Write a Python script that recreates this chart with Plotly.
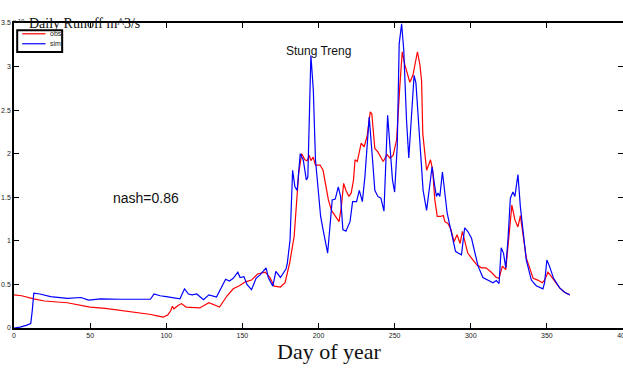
import plotly.graph_objects as go

# ---- data (units: x 10^4 m^3/s) ----
obs_day = [0, 5, 13, 20, 35, 50, 60, 72, 83, 90, 94, 98, 101, 103, 104, 105, 108, 110, 113, 116,
           122, 128, 131, 135, 140, 144, 148, 152, 156, 160, 165, 168, 171, 175, 178, 181, 184, 187,
           189, 191, 192.5, 194, 195, 196.5, 198, 201, 203, 204.5, 206.5, 208.5, 211, 213.5, 215,
           216.5, 218, 220, 221.5, 223, 224, 225.5, 228, 230, 232, 234, 235, 237, 239, 242.5, 245,
           247, 249, 251.3, 253.4, 255, 256.7, 260, 262, 265, 266.6, 267.7, 268.5, 271, 273.6, 275,
           276.4, 278, 280, 282, 283, 285, 287, 289, 291, 293, 294.5, 296, 298, 301.5, 304, 307,
           310, 313.5, 316.8, 318.6, 320.8, 323, 324.5, 325.6, 327, 329, 331, 332.6, 334.3, 336.5,
           338.3, 341, 344, 347, 348.5, 350.7, 353, 356, 358.4, 361.6, 365]
obs_val = [0.38, 0.37, 0.335, 0.31, 0.29, 0.24, 0.225, 0.20, 0.17, 0.155, 0.14, 0.125, 0.15, 0.20,
           0.25, 0.22, 0.26, 0.28, 0.24, 0.235, 0.23, 0.29, 0.27, 0.24, 0.37, 0.45, 0.485, 0.53,
           0.55, 0.62, 0.64, 0.58, 0.48, 0.47, 0.52, 0.74, 1.05, 1.78, 2.0, 1.93, 1.92, 1.98, 1.92,
           1.96, 1.87, 1.87, 1.81, 1.66, 1.47, 1.35, 1.28, 1.22, 1.39, 1.66, 1.58, 1.51, 1.55, 1.70,
           1.93, 1.91, 2.12, 2.08, 2.21, 2.48, 2.46, 2.06, 2.02, 1.91, 1.99, 1.95, 1.98, 2.16, 2.77,
           3.17, 3.02, 2.82, 2.90, 3.17, 3.02, 2.84, 2.23, 1.81, 1.93, 1.81, 1.47, 1.28, 1.28, 1.29,
           1.22, 1.20, 1.13, 0.99, 1.07, 0.97, 1.11, 1.0, 0.86, 0.78, 0.725, 0.69, 0.69, 0.64, 0.58,
           0.57, 0.71, 0.67, 0.95, 1.22, 1.41, 1.24, 1.16, 1.29, 1.05, 0.80, 0.71, 0.57, 0.55, 0.52,
           0.55, 0.64, 0.59, 0.515, 0.46, 0.41, 0.38]

sim_day = [0, 4, 8, 11, 12, 13, 17, 24, 35, 44, 49, 57, 70, 80, 89.6, 92, 96, 100, 104, 109, 112,
           114.6, 117, 120, 124.5, 128, 133, 136, 139, 141.5, 144, 147, 148.5, 151, 153, 156, 159,
           161.6, 165.6, 167, 170, 172, 175, 178.7, 179.5, 181.3, 183, 184.5, 186, 188, 190, 192,
           193, 195, 196.6, 198, 200, 201.4, 203, 204.7, 206, 207.5, 209, 211, 213, 214.5, 216, 218,
           220.7, 222.4, 225, 226.8, 228.8, 230.5, 233.3, 235.5, 237, 239, 241, 243, 245.4, 247.3,
           248.6, 250, 251.7, 253, 254.6, 256, 257.8, 259.3, 261, 262.8, 264, 266.6, 268.7, 271,
           272.7, 274.6, 276.4, 277.5, 278.5, 279.7, 281.4, 283, 284.5, 286.2, 288.4, 290, 291.7,
           293.9, 296, 298, 300.5, 302.7, 304.8, 308, 311.3, 314.6, 316.8, 318.6, 320, 321.5, 323,
           324.5, 326, 327.7, 329, 331, 332.6, 334.3, 336.5, 339.8, 343, 347.4, 348.5, 350, 351.7,
           354.4, 358.4, 361.6, 365]
sim_val = [0.0, 0.01, 0.03, 0.05, 0.2, 0.40, 0.39, 0.36, 0.34, 0.35, 0.32, 0.335, 0.33, 0.33, 0.33,
           0.39, 0.37, 0.36, 0.35, 0.335, 0.45, 0.39, 0.38, 0.39, 0.325, 0.38, 0.355, 0.46, 0.56,
           0.54, 0.57, 0.64, 0.58, 0.59, 0.50, 0.44, 0.57, 0.61, 0.69, 0.58, 0.48, 0.65, 0.58, 0.68,
           0.74, 1.01, 1.81, 1.62, 1.58, 2.0, 1.93, 1.70, 1.73, 3.13, 2.73, 1.93, 1.58, 1.28, 1.13,
           0.97, 0.86, 1.16, 1.47, 1.48, 1.62, 1.51, 1.13, 1.11, 1.22, 1.45, 1.45, 1.58, 1.45, 1.74,
           2.42, 1.93, 1.58, 1.51, 1.49, 1.34, 2.44, 2.0, 1.70, 1.56, 2.08, 3.26, 3.49, 3.19, 2.39,
           1.95, 2.46, 2.90, 2.81, 2.19, 1.58, 1.35, 1.58, 1.85, 1.62, 1.51, 1.55, 1.51, 1.79, 1.58,
           1.32, 1.18, 1.01, 0.88, 0.86, 0.84, 1.15, 1.11, 1.03, 0.86, 0.71, 0.58, 0.545, 0.52,
           0.545, 0.51, 0.92, 0.86, 0.69, 1.03, 1.49, 1.56, 1.51, 1.76, 1.39, 1.11, 0.78, 0.55,
           0.485, 0.45, 0.52, 0.78, 0.71, 0.57, 0.46, 0.41, 0.38]

x_ticks = [0, 50, 100, 150, 200, 250, 300, 350, 400]
y_ticks = [0, 0.5, 1, 1.5, 2, 2.5, 3, 3.5]
y_tick_text = ["0", "0.5", "1", "1.5", "2", "2.5", "3", "3.5"]
series_names = ["obs", "sim"]
series_colors = ["#ff0000", "#0000ff"]

fig = go.Figure()
fig.add_trace(go.Scatter(x=obs_day, y=obs_val, mode="lines", name=series_names[0],
                         line=dict(color=series_colors[0], width=1.2)))
fig.add_trace(go.Scatter(x=sim_day, y=sim_val, mode="lines", name=series_names[1],
                         line=dict(color=series_colors[1], width=1.2)))

W, H = 623, 381
L, T, B, R = 13.5, 22.7, 328.3, 623.0
ml, mt, mr, mb = L, T, W - R, H - B


def px(sx):
    return (sx - L) / (R - L)


def py(sy):
    return (B - sy) / (B - T)


fig.update_layout(
    width=W, height=H,
    margin=dict(l=ml, r=mr, t=mt, b=mb, pad=0, autoexpand=False),
    paper_bgcolor="white", plot_bgcolor="white",
    font=dict(family="Liberation Sans, Arial", size=7, color="#222"),
    showlegend=False,
    xaxis=dict(range=[0, 400], tickvals=x_ticks, ticks="inside", ticklen=5,
               tickcolor="black", showline=True, linecolor="black", linewidth=2,
               mirror="ticks", showgrid=False, zeroline=False, automargin=False,
               ticklabeloverflow="allow",
               tickfont=dict(size=7, color="#222")),
    yaxis=dict(range=[0, 3.5], tickvals=y_ticks, ticktext=y_tick_text, ticks="inside",
               ticklen=5, tickcolor="black", showline=True, linecolor="black",
               linewidth=1.5, mirror="ticks", showgrid=False, zeroline=False, automargin=False,
               ticklabeloverflow="allow",
               tickfont=dict(size=7, color="#222")),
)

# manual MATLAB-style legend
fig.add_shape(type="rect", xref="paper", yref="paper", x0=px(16.7), x1=px(61.7),
              y0=py(51.7), y1=py(30), line=dict(color="black", width=2),
              fillcolor="white", layer="above")
for i, (nm, col) in enumerate(zip(series_names, series_colors)):
    yy = 33.5 + 10 * i
    fig.add_shape(type="line", xref="paper", yref="paper", x0=px(21.7), x1=px(45),
                  y0=py(yy), y1=py(yy), line=dict(color=col, width=1.2), layer="above")
    fig.add_annotation(text=nm, x=px(47.5), y=py(yy), xref="paper", yref="paper",
                       xanchor="left", yanchor="middle", showarrow=False,
                       font=dict(family="Liberation Sans, Arial", size=7, color="#222"))

fig.add_annotation(text="Stung Treng", x=px(318), y=py(42), xref="paper", yref="paper",
                   showarrow=False, font=dict(family="Liberation Sans, Arial", size=12, color="#111"))
fig.add_annotation(text="nash=0.86", x=px(111), y=py(198), xref="paper", yref="paper",
                   showarrow=False, font=dict(family="Liberation Sans, Arial", size=14, color="#111"))
fig.add_annotation(text="Day of year", x=px(329), y=py(366), xref="paper", yref="paper",
                   showarrow=False,
                   font=dict(family="Liberation Serif, Times New Roman", size=22, color="#111"))
fig.add_annotation(text="Daily Runoff m^3/s", x=px(27), y=py(14), xref="paper", yref="paper",
                   xanchor="left", showarrow=False,
                   font=dict(family="Liberation Serif, Times New Roman", size=14, color="#111"))
fig.add_annotation(text="x 10", x=px(10.5), y=py(16), xref="paper", yref="paper",
                   xanchor="left", showarrow=False,
                   font=dict(family="Liberation Sans, Arial", size=6, color="#222"))

fig.write_html("out.html", config={"displayModeBar": False},
               post_script="document.body.style.margin='0px';")
